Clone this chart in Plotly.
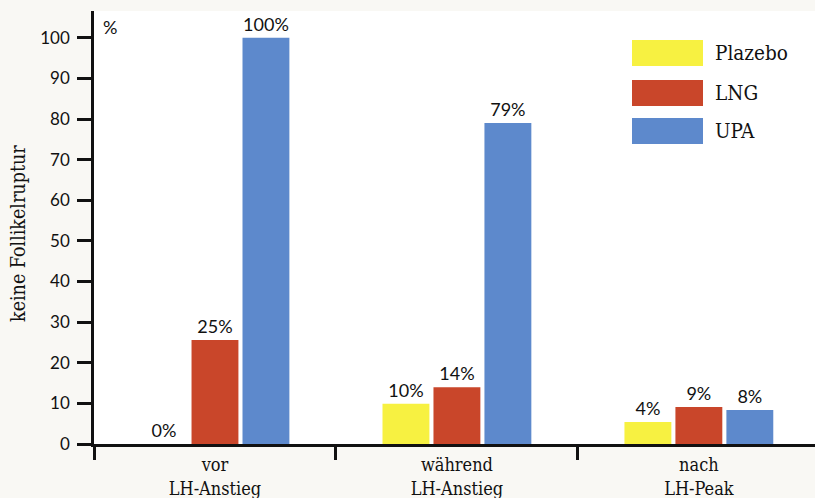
import plotly.graph_objects as go

categories = ["vor<br>LH-Anstieg", "während<br>LH-Anstieg", "nach<br>LH-Peak"]
series_names = ["Plazebo", "LNG", "UPA"]
series_colors = ["#f7f141", "#c9462a", "#5d89cc"]
# bar heights as drawn (percent)
values = {
    "Plazebo": [0, 9.9, 5.4],
    "LNG": [25.6, 14.0, 9.1],
    "UPA": [100, 79, 8.4],
}
labels = {
    "Plazebo": ["0%", "10%", "4%"],
    "LNG": ["25%", "14%", "9%"],
    "UPA": ["100%", "79%", "8%"],
}

W, H = 815, 498
ML, MT, MB, MR = 94, 11, 54, 0
PW = W - ML - MR
PH = H - MT - MB

def px_x(x):
    return (x - ML) / PW

def px_y(y):
    return (H - MB - y) / PH

SANS = "Lato, 'Open Sans', sans-serif"
SERIF = "'DejaVu Serif Condensed', 'DejaVu Serif', serif"

fig = go.Figure()
for name, color in zip(series_names, series_colors):
    fig.add_trace(go.Bar(
        x=categories, y=values[name], name=name,
        marker=dict(color=color, line=dict(width=0)),
        text=labels[name], textposition="outside",
        textfont=dict(family=SANS, size=18, color="#111"),
        cliponaxis=False, showlegend=False,
    ))

shapes = []
annotations = []
# manual legend with large swatches
leg_y = [53, 93, 131]
for name, color, yc in zip(series_names, series_colors, leg_y):
    shapes.append(dict(type="rect", xref="paper", yref="paper",
                       x0=px_x(632), x1=px_x(703), y0=px_y(yc + 13), y1=px_y(yc - 13),
                       fillcolor=color, line=dict(width=0)))
    annotations.append(dict(xref="paper", yref="paper", x=px_x(713), y=px_y(yc),
                            xanchor="left", yanchor="middle", text=name, showarrow=False,
                            font=dict(family=SERIF, size=20.5, color="#111")))

annotations.append(dict(xref="paper", yref="paper", x=px_x(101), y=px_y(27),
                        xanchor="left", yanchor="middle", text="%", showarrow=False,
                        font=dict(family=SANS, size=18, color="#111")))
annotations.append(dict(xref="paper", yref="paper", x=px_x(19), y=px_y(234),
                        xanchor="center", yanchor="middle", text="keine Follikelruptur",
                        textangle=-90, showarrow=False,
                        font=dict(family=SERIF, size=19.5, color="#111")))

fig.update_layout(
    width=W, height=H,
    margin=dict(l=ML, r=MR, t=MT, b=MB, pad=0),
    paper_bgcolor="#f9f8f4", plot_bgcolor="#ffffff",
    barmode="group", bargap=0.368, bargroupgap=0.08,
    shapes=shapes, annotations=annotations,
    showlegend=False,
)
fig.update_xaxes(
    type="category", range=[-0.5, 2.48],
    showline=True, linecolor="#111", linewidth=2.5,
    ticks="outside", tickson="boundaries", ticklen=13, tickwidth=2.5, tickcolor="#111",
    tickfont=dict(family=SERIF, size=18, color="#111"),
    ticklabelstandoff=3,
    showgrid=False, zeroline=False,
)
fig.update_yaxes(
    range=[0, 106.6], dtick=10, tick0=0,
    showline=True, linecolor="#111", linewidth=2.5,
    ticks="outside", ticklen=14, tickwidth=3, tickcolor="#111",
    tickfont=dict(family=SANS, size=17, color="#111"),
    ticklabelstandoff=4,
    showgrid=False, zeroline=False,
)

fig.write_html("out.html")
